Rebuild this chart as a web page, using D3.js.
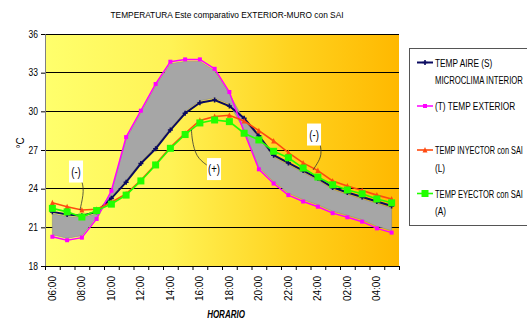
<!DOCTYPE html>
<html><head><meta charset="utf-8">
<script src="https://cdn.jsdelivr.net/npm/d3@7/dist/d3.min.js"></script>
<style>html,body{margin:0;padding:0;background:#fff;}svg{display:block;}</style>
</head><body>
<script>
const categories = ["06:00","07:00","08:00","09:00","10:00","11:00","12:00","13:00","14:00","15:00","16:00","17:00",
  "18:00","19:00","20:00","21:00","22:00","23:00","24:00","01:00","02:00","03:00","04:00","05:00"];
const tickLabels = ["06:00","08:00","10:00","12:00","14:00","16:00","18:00","20:00","22:00","24:00","02:00","04:00"];
const yTicks = [18,21,24,27,30,33,36];
const aire      = [22.2,22.0,21.9,22.2,23.25,24.5,25.95,27.1,28.55,29.85,30.67,30.88,30.41,29.46,28.1,26.6,26.0,25.4,24.8,24.1,23.7,23.35,23.0,22.65];
const exterior  = [20.27,20.0,20.2,21.65,23.84,28.0,30.05,32.12,33.85,34.03,34.03,33.3,31.5,28.4,25.5,24.4,23.5,23.0,22.6,22.1,21.78,21.44,20.92,20.59];
const inyector  = [22.9,22.6,22.35,22.4,22.95,23.6,24.65,25.9,27.2,28.3,29.3,29.6,29.7,29.25,28.5,27.7,26.8,26.0,25.4,24.6,24.2,23.85,23.5,23.2];
const eyector   = [22.47,22.2,21.8,22.3,22.8,23.5,24.6,25.84,27.13,28.2,29.1,29.33,29.2,28.3,27.78,26.9,26.4,25.6,24.9,24.3,23.9,23.6,23.2,22.9];
const seriesNames = [["TEMP AIRE (S)","MICROCLIMA INTERIOR"],["(T) TEMP EXTERIOR"],["TEMP INYECTOR con SAI","(L)"],["TEMP EYECTOR  con SAI","(A)"]];
const annotations = [
  {text:"(-)", at:[2.10,25.33], leader:[[2.44,24.75],[2.68,23.9],[2.37,22.34]]},
  {text:"(+)", at:[11.46,25.52], leader:[[10.96,25.84],[10.24,26.46],[9.97,27.78],[9.93,28.55]]},
  {text:"(-)", at:[18.24,28.2], leader:[[18.64,27.54],[18.78,26.61],[18.44,25.91],[18.17,25.45]]}
];

const W=527,H=323;
const svg=d3.select("body").append("svg").attr("width",W).attr("height",H);
const L=45,R=399,T=34,B=266;
const x=d3.scaleBand().domain(categories).range([L,R]).padding(0);
const xe=d3.scaleLinear().domain([0,categories.length]).range([L,R]);
const y=d3.scaleLinear().domain([18,36]).range([B,T]);
const cx=c=>x(c)+x.bandwidth()/2;

const defs=svg.append("defs");
const g=defs.append("linearGradient").attr("id","bg").attr("x1","0").attr("x2","1").attr("y1","0").attr("y2","0");
g.append("stop").attr("offset","0%").attr("stop-color","#ffff6c");
g.append("stop").attr("offset","35%").attr("stop-color","#fff356");
g.append("stop").attr("offset","70%").attr("stop-color","#ffd21e");
g.append("stop").attr("offset","100%").attr("stop-color","#ffb800");
svg.append("rect").attr("x",L).attr("y",T).attr("width",R-L).attr("height",B-T).attr("fill","url(#bg)");

// grid
svg.append("g").selectAll("line").data(yTicks.filter(d=>d>18)).join("line")
  .attr("x1",L).attr("x2",R).attr("y1",d=>y(d)).attr("y2",d=>y(d))
  .attr("stroke","#000").attr("stroke-width",1).attr("shape-rendering","crispEdges");

// gray band between exterior and aire
const band=categories.map((c,i)=>{
  let a=y(exterior[i]),b=y(aire[i]);
  let top=Math.min(a,b),bot=Math.max(a,b);
  if(bot-top>4){top+=2;bot-=2;}else{const m=(top+bot)/2;top=m;bot=m;}
  return {c,top,bot};
});
svg.append("path").datum(band)
  .attr("d",d3.area().x(d=>cx(d.c)).y0(d=>d.bot).y1(d=>d.top))
  .attr("fill","#a6a6a6").attr("stroke","#8c8c8c").attr("stroke-width",0.6);

// axes
const ya=svg.append("g").attr("transform",`translate(${L},0)`)
  .call(d3.axisLeft(y).tickValues(yTicks).tickSize(4).tickPadding(3));
ya.select(".domain").attr("stroke","#808080");
ya.selectAll(".tick line").attr("stroke","#000");
ya.selectAll("text").attr("font-family","Liberation Sans, Arial, sans-serif").attr("font-size",10).attr("fill","#000")
  .attr("transform","scale(0.85,1)").attr("x",-7/0.85);

const xa=svg.append("g").attr("transform",`translate(0,${B})`)
  .call(d3.axisBottom(xe).tickValues(d3.range(categories.length+1)).tickSize(4).tickFormat(""));
xa.select(".domain").attr("stroke","#000");
xa.selectAll(".tick line").attr("stroke","#000");
svg.append("g").selectAll("text").data(tickLabels).join("text")
  .attr("transform",d=>`translate(${cx(d)+3.5},${B+10}) rotate(-90)`)
  .attr("text-anchor","end")
  .attr("font-family","Liberation Sans, Arial, sans-serif").attr("font-size",10).attr("fill","#000")
  .text(d=>d);

// series
const line=d3.line().x((d,i)=>cx(categories[i])).y(d=>y(d));
const specs=[
  {data:aire,color:"#0a0a60",w:2,marker:"cross",ms:14},
  {data:exterior,color:"#ff00ff",w:1.5,marker:"square",ms:4},
  {data:inyector,color:"#ff4a10",w:1.6,marker:"triangle",ms:5},
  {data:eyector,color:"#22ff00",w:1.6,marker:"square",ms:7}
];
function drawMarker(sel,s,px,py){
  if(s.marker==="square"){
    sel.append("rect").attr("x",px-s.ms/2).attr("y",py-s.ms/2).attr("width",s.ms).attr("height",s.ms).attr("fill",s.color);
  }else if(s.marker==="triangle"){
    const h=s.ms;
    sel.append("path").attr("d",`M${px},${py-h/2-0.5}L${px+h/2},${py+h/2}L${px-h/2},${py+h/2}Z`).attr("fill",s.color);
  }else{
    sel.append("path").attr("d",`M${px-2.5},${py}H${px+2.5}M${px},${py-2.5}V${py+2.5}`).attr("stroke",s.color).attr("stroke-width",1.6);
  }
}
specs.forEach(s=>{
  const gg=svg.append("g");
  gg.append("path").attr("d",line(s.data)).attr("fill","none").attr("stroke",s.color).attr("stroke-width",s.w);
  s.data.forEach((v,i)=>drawMarker(gg,s,cx(categories[i]),y(v)));
});

// annotations
const ax=i=>xe(i);
annotations.forEach(a=>{
  const pts=a.leader.map(p=>[ax(p[0]),y(p[1])]);
  svg.append("path").attr("d",d3.line().curve(d3.curveBasis)(pts)).attr("fill","none").attr("stroke","#333").attr("stroke-width",0.8);
  const bx=ax(a.at[0]),by=y(a.at[1]);
  svg.append("rect").attr("x",bx-7).attr("y",by-11).attr("width",14).attr("height",22).attr("fill","#fff");
  svg.append("text").attr("transform",`translate(${bx},${by+4}) scale(0.8,1)`).attr("text-anchor","middle")
    .attr("font-family","Liberation Sans, Arial, sans-serif").attr("font-size",12).attr("fill","#000").text(a.text);
});

// title and axis titles
svg.append("text").attr("x",227).attr("y",18).attr("text-anchor","middle")
  .attr("font-family","Liberation Sans, Arial, sans-serif").attr("font-size",9.5)
  .attr("textLength",233).attr("lengthAdjust","spacingAndGlyphs")
  .text("TEMPERATURA Este comparativo EXTERIOR-MURO con SAI");
svg.append("text").attr("transform","translate(24,143) rotate(-90)").attr("text-anchor","middle")
  .attr("font-family","Liberation Sans, Arial, sans-serif").attr("font-size",10).text("°C");
svg.append("text").attr("transform","translate(226,318) scale(0.8,1)").attr("text-anchor","middle")
  .attr("font-family","Liberation Sans, Arial, sans-serif").attr("font-size",10).attr("font-weight","bold").attr("font-style","italic")
  .text("HORARIO");

// legend
const lg=svg.append("g");
lg.append("rect").attr("x",409.5).attr("y",48.5).attr("width",130).attr("height",177).attr("fill","#fff").attr("stroke","#555").attr("stroke-width",1);
const ly=[62.5,106,150,193.5];
const maxW=88;
specs.forEach((s,i)=>{
  lg.append("line").attr("x1",417).attr("x2",433).attr("y1",ly[i]).attr("y2",ly[i]).attr("stroke",s.color).attr("stroke-width",s.w);
  drawMarker(lg,s,425,ly[i]);
  seriesNames[i].forEach((t,j)=>{
    const tx=lg.append("text")
      .attr("font-family","Liberation Sans, Arial, sans-serif").attr("font-size",11.5).attr("fill","#000").text(t);
    const len=tx.node().getComputedTextLength();
    const sx=Math.min(0.72, maxW/len);
    tx.attr("transform",`translate(435,${ly[i]+4+j*17.5}) scale(${sx},1)`);
  });
});
</script>
</body></html>
